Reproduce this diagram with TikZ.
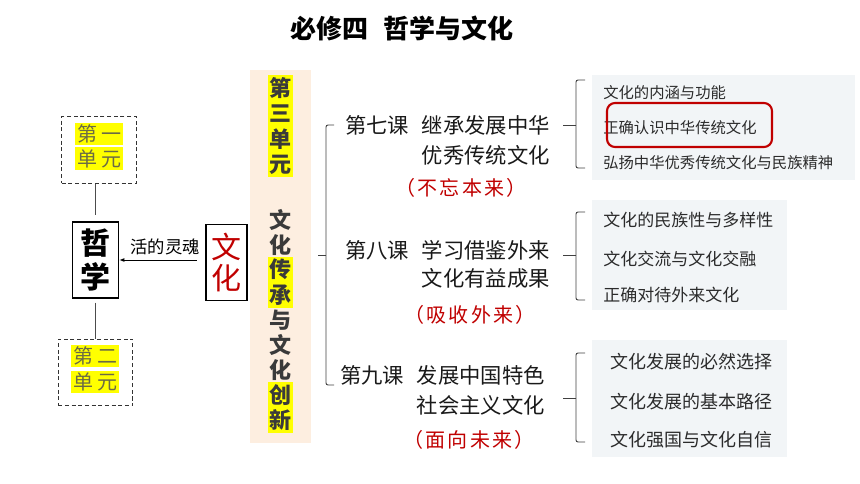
\documentclass[tikz,border=0pt]{standalone}
\usepackage{fontspec}
\setmainfont{Noto Sans CJK SC}
\usepackage{xcolor}
\usetikzlibrary{arrows.meta}
\definecolor{hlyellow}{HTML}{FFFF00}
\definecolor{unitgray}{HTML}{6B6B45}
\definecolor{darkred}{HTML}{C00000}
\definecolor{peach}{HTML}{FDEEE0}
\definecolor{listbg}{HTML}{F2F5F7}
\definecolor{coltext}{HTML}{3A3A3A}
\definecolor{listtext}{HTML}{2B2B2B}
\newcommand\fsz[1]{\fontsize{#1}{#1}\selectfont}
\newcommand\gp{\hspace{1.6pt}}

\begin{document}
\begin{tikzpicture}[x=0.75pt,y=-0.75pt,
  unitbox/.style={draw=black!80,densely dashed,line width=0.8pt,minimum width=56pt,minimum height=50pt},
  hl/.style={fill=hlyellow,text=unitgray,inner xsep=1.5pt,inner ysep=0pt,minimum height=17pt,font=\fsz{15}},
  bigbox/.style={draw,line width=0.9pt,align=center,inner sep=2pt,minimum width=34.5pt,minimum height=57pt},
  colchar/.style={text=coltext,inner sep=0pt,minimum width=18.75pt,minimum height=19.1pt,font=\fsz{16.5}\bfseries},
  lesson/.style={anchor=east,text=black!90,inner sep=0pt,font=\fsz{16}},
  motto/.style={text=darkred,inner sep=0pt,font=\fsz{15}},
  item/.style={anchor=west,text=listtext,inner sep=0pt},
  brace/.style={line width=0.7pt,black!75,rounded corners=1.5pt}]
\useasboundingbox (0,0) rectangle (860,484);
% title
\node[font=\fsz{19.5}\bfseries] (title) at (402,28) {必修四\hspace{12pt}哲学与文化};
% left part
\node[unitbox] (unit1) at (99,150) {};
\node[hl] (u1a) at (99,134) {第\hspace{3pt}一};
\node[hl] (u1b) at (99,158.5) {单\hspace{3pt}元};
\node[bigbox,font=\fontsize{22.5}{25.5}\selectfont\bfseries] (phil) at (95.5,260) {哲\\学};
\node[unitbox] (unit2) at (95.5,372.5) {};
\node[hl] (u2a) at (95,356) {第\hspace{3pt}二};
\node[hl] (u2b) at (95,382) {单\hspace{3pt}元};
\draw[black!70,line width=0.6pt,shorten >=5pt] (phil.north |- unit1.south) -- (phil.north);
\draw[black!70,line width=0.6pt,shorten <=3pt] (phil.south) -- (phil.south |- unit2.north);
\node[bigbox,text=darkred,minimum width=30.75pt,font=\fontsize{22.5}{23.25}\selectfont] (cult) at (226.5,262.5) {文\\化};
\draw[-{Latex[length=4pt,width=3pt]},line width=0.7pt,shorten <=6.5pt] (phil.east -| cult.west) -- (phil.east);
\node[font=\fsz{13}] (soul) at (165,247) {活的灵魂};
% unit column
\fill[peach] (250,70) rectangle (311,443);
\foreach \ch/\yy/\bg [count=\i] in {第/88/hlyellow,三/113.5/hlyellow,单/139/hlyellow,元/164.5/hlyellow,
  文/219.5/none,化/244.6/none,传/269.7/hlyellow,承/294.8/hlyellow,与/319.9/none,
  文/345/none,化/370.1/none,创/395.2/hlyellow,新/420.3/hlyellow}
  \node[colchar,fill=\bg] (col\i) at (280.5,\yy) {\ch};
% lessons
\draw[brace] (334,125) -- (326,125) -- (326,385) -- (334,385);
\draw[brace] (326,255) -- (318,255);
\node[lesson] (l7a) at (550,125) {第七课\hspace{9.5pt}继承发展中华};
\node[lesson] (l7b) at (550,155) {优秀传统文化};
\node[motto] (m7) at (461,188) {（\gp 不\gp 忘\gp 本\gp 来\gp ）};
\node[lesson] (l8a) at (550,250) {第八课\hspace{9.5pt}学习借鉴外来};
\node[lesson] (l8b) at (550,278) {文化有益成果};
\node[motto] (m8) at (470,315) {（\gp 吸\gp 收\gp 外\gp 来\gp ）};
\node[lesson] (l9a) at (545,375) {第九课\hspace{9.5pt}发展中国特色};
\node[lesson] (l9b) at (545,405) {社会主义文化};
\node[motto] (m9) at (469,440) {（\gp 面\gp 向\gp 未\gp 来\gp ）};
% content lists
\fill[listbg] (592,75) rectangle (855,180);
\fill[listbg] (592,200) rectangle (787,310);
\fill[listbg] (592,340) rectangle (787,457);
\foreach \ya/\yt/\yb in {80/125/168,212/255/300,353/398/442}{
  \draw[brace] (585,\ya) -- (576,\ya) -- (576,\yb) -- (585,\yb);
  \draw[brace] (576,\yt) -- (563,\yt);
}
\node[item,font=\fsz{11.5}] (c1) at (603,93) {文化的内涵与功能};
\node[item,font=\fsz{11.5}] (c2) at (603,128) {正确认识中华传统文化};
\node[item,font=\fsz{11.5}] (c3) at (603,163) {弘扬中华优秀传统文化与民族精神};
\draw[darkred,line width=1.6pt,rounded corners=6pt] (607,103) rectangle (772,147);
\node[item,font=\fsz{12.75}] (c4) at (603,220) {文化的民族性与多样性};
\node[item,font=\fsz{12.75}] (c5) at (603,259) {文化交流与文化交融};
\node[item,font=\fsz{12.75}] (c6) at (603,295) {正确对待外来文化};
\node[item,font=\fsz{13.5}] (c7) at (610,362) {文化发展的必然选择};
\node[item,font=\fsz{13.5}] (c8) at (610,402) {文化发展的基本路径};
\node[item,font=\fsz{13.5}] (c9) at (610,440) {文化强国与文化自信};
\end{tikzpicture}
\end{document}
